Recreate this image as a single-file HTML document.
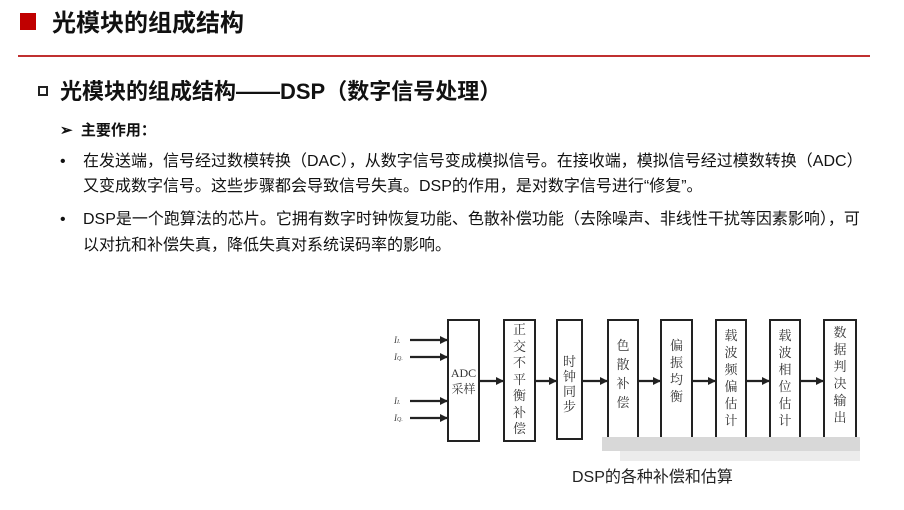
<!DOCTYPE html>
<html><head><meta charset="utf-8"><style>
body{margin:0;width:904px;height:510px;background:#fff;overflow:hidden;position:relative;font-family:"Liberation Sans","Noto Sans CJK SC",sans-serif;color:#111}
.a{position:absolute;white-space:nowrap}
.box{position:absolute;border:2px solid #222;box-sizing:border-box;font-family:"Liberation Serif","Noto Serif CJK SC",serif;font-size:13px;line-height:17px;text-align:center;color:#333}
.t{font-size:16px;line-height:20px}
</style></head><body>
<div class="a" style="left:20px;top:13px;width:16px;height:17px;background:#c00000"></div>
<div class="a" style="left:52px;top:7px;font-size:24px;font-weight:bold;line-height:34px">光模块的组成结构</div>
<div class="a" style="left:18px;top:55px;width:852px;height:2px;background:#c03030"></div>
<div class="a" style="left:38px;top:86px;width:10px;height:10px;border:2px solid #222;box-sizing:border-box"></div>
<div class="a" style="left:60px;top:77px;font-size:22px;font-weight:bold;line-height:30px">光模块的组成结构——DSP（数字信号处理）</div>
<div class="a" style="left:60px;top:121px;font-size:15px;font-weight:bold;line-height:20px">➢&nbsp;&nbsp;主要作用：</div>
<div class="a t" style="left:60px;top:152px">•</div>
<div class="a t" style="left:83px;top:152px;width:785px;overflow:hidden">在发送端，信号经过数模转换（DAC），从数字信号变成模拟信号。在接收端，模拟信号经过模数转换（ADC）</div>
<div class="a t" style="left:83px;top:177px">又变成数字信号。这些步骤都会导致信号失真。DSP的作用，是对数字信号进行“修复”。</div>
<div class="a t" style="left:60px;top:210px">•</div>
<div class="a t" style="left:83px;top:210px;width:785px;overflow:hidden">DSP是一个跑算法的芯片。它拥有数字时钟恢复功能、色散补偿功能（去除噪声、非线性干扰等因素影响），可</div>
<div class="a t" style="left:83px;top:236px">以对抗和补偿失真，降低失真对系统误码率的影响。</div>

<svg class="a" style="left:0;top:0" width="904" height="510">
<defs><marker id="m" markerWidth="8" markerHeight="8" refX="7" refY="4" orient="auto" markerUnits="userSpaceOnUse"><path d="M0,0L8,4L0,8z" fill="#222"/></marker></defs>
<g stroke="#222" stroke-width="2.2" marker-end="url(#m)">
<line x1="410" y1="340" x2="447" y2="340"/><line x1="410" y1="357" x2="447" y2="357"/>
<line x1="410" y1="401" x2="447" y2="401"/><line x1="410" y1="418" x2="447" y2="418"/>
<line x1="480" y1="381" x2="503" y2="381"/><line x1="536" y1="381" x2="556" y2="381"/>
<line x1="583" y1="381" x2="607" y2="381"/><line x1="639" y1="381" x2="660" y2="381"/>
<line x1="693" y1="381" x2="715" y2="381"/><line x1="747" y1="381" x2="769" y2="381"/>
<line x1="801" y1="381" x2="823" y2="381"/>
</g>
<g font-family="Liberation Serif,serif" font-style="italic" font-size="9" fill="#444">
<text x="394" y="343">I<tspan font-size="6">I.</tspan></text><text x="394" y="360">I<tspan font-size="6">Q.</tspan></text>
<text x="394" y="404">I<tspan font-size="6">I.</tspan></text><text x="394" y="421">I<tspan font-size="6">Q.</tspan></text>
</g>
</svg>
<div class="box" style="left:447px;top:319px;width:33px;height:123px;padding-top:44px;font-size:12px;line-height:16px">ADC<br>采样</div>
<div class="box" style="left:503px;top:319px;width:33px;height:123px;padding-top:1px;line-height:16.5px">正<br>交<br>不<br>平<br>衡<br>补<br>偿</div>
<div class="box" style="left:556px;top:319px;width:27px;height:121px;padding-top:33px;line-height:15px">时<br>钟<br>同<br>步</div>
<div class="box" style="left:607px;top:319px;width:32px;height:121px;padding-top:15px;line-height:19px">色<br>散<br>补<br>偿</div>
<div class="box" style="left:660px;top:319px;width:33px;height:121px;padding-top:16px;line-height:17px">偏<br>振<br>均<br>衡</div>
<div class="box" style="left:715px;top:319px;width:32px;height:121px;padding-top:6px">载<br>波<br>频<br>偏<br>估<br>计</div>
<div class="box" style="left:769px;top:319px;width:32px;height:121px;padding-top:6px">载<br>波<br>相<br>位<br>估<br>计</div>
<div class="box" style="left:823px;top:319px;width:34px;height:121px;padding-top:3px">数<br>据<br>判<br>决<br>输<br>出</div>
<div class="a" style="left:602px;top:437px;width:258px;height:14px;background:#d8d8d8"></div>
<div class="a" style="left:620px;top:451px;width:240px;height:10px;background:#ececec"></div>
<div class="a" style="left:572px;top:467px;font-size:16px;line-height:22px;color:#222">DSP的各种补偿和估算</div>
</body></html>
